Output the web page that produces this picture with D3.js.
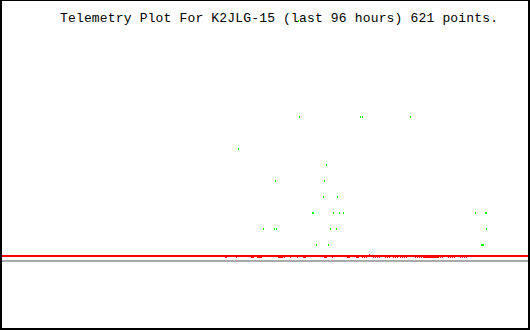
<!DOCTYPE html>
<html>
<head>
<meta charset="utf-8">
<script src="https://cdn.jsdelivr.net/npm/d3@7"></script>
<style>
    body { margin: 0; background: #fff; }
    svg { display: block; }
</style>
</head>
<body>
<script>
// time axis is hours before now, last 96 hours
var hourRange = [-96, 0];
var levelRange = [0, 16];

var titleText = 'Telemetry Plot For K2JLG-15 (last 96 hours) 621 points.';

// green channel, hours ago and level
var greenHours = [-41.82, -41.64, -30.55, -30.18, -21.45, -52.73, -36.73, -46.00, -37.09,
    -37.27, -34.73, -39.27, -39.09, -35.45, -34.36, -33.64, -9.64, -7.82, -7.64,
    -48.18, -46.18, -45.82, -36.00, -34.91, -7.64, -38.55, -36.36, -8.55, -8.36, -8.18];
var greenLevels = [15, 9, 9, 9, 9, 7, 6, 5, 5,
    4, 4, 3, 3, 3, 3, 3, 3, 3, 3,
    2, 2, 2, 2, 2, 2, 1, 1, 1, 1, 1];

// red channel, only the samples that leave the red line are visible
var redHours = [-55.09, -54.91, -53.09, -50.36, -50.18, -50.00, -49.27, -49.09, -48.91, -48.73,
    -48.55, -45.45, -45.27, -45.09, -44.91, -44.73, -44.36, -43.27, -42.00, -40.91,
    -40.73, -40.55, -37.09, -36.91, -36.73, -35.64, -32.91, -32.73, -32.55, -31.27,
    -31.09, -30.91, -30.18, -29.82, -29.45, -28.91, -28.18, -27.82, -27.45, -27.09,
    -26.00, -25.64, -25.27, -24.55, -24.18, -23.82, -23.27, -22.91, -22.55, -22.18,
    -20.55, -20.18, -19.82, -19.45, -19.09, -18.91, -18.73, -18.55, -18.36, -18.18,
    -18.00, -17.82, -17.64, -17.45, -17.27, -17.09, -16.91, -16.73, -16.55, -16.36,
    -16.00, -15.64, -14.55, -14.18, -13.82, -13.45, -12.36, -12.00, -11.64, -11.27];
var redValues = [0.25, 0.25, 0.25, 0.25, 0.25, 0.25, 0.25, 0.25, 0.25, 0.25,
    0.25, 0.25, 0.25, 0.25, 0.25, 0.25, 0.25, 0.25, 0.25, 0.25,
    0.25, 0.25, 0.25, 0.25, 0.25, 0.25, 0.25, 0.25, 0.25, 0.25,
    0.25, 0.25, 0.25, 0.25, 0.25, 0.375, 0.25, 0.25, 0.25, 0.25,
    0.25, 0.25, 0.25, 0.25, 0.25, 0.25, 0.25, 0.25, 0.25, 0.25,
    0.25, 0.25, 0.25, 0.25, 0.25, 0.25, 0.25, 0.25, 0.25, 0.25,
    0.25, 0.25, 0.25, 0.25, 0.25, 0.25, 0.25, 0.25, 0.25, 0.25,
    0.25, 0.25, 0.25, 0.25, 0.25, 0.25, 0.25, 0.25, 0.25, 0.25];

// reference lines
var redLineLevel = 0.3125;
var baseLevel = 0;

window.onload = function(){
    var width = 530,
        height = 330,
        svg, x, y;

    svg = d3.select('body')
        .append('svg')
        .attr('width', width)
        .attr('height', height)
        .attr('shape-rendering', 'crispEdges');

    x = d3.scaleLinear().domain(hourRange).range([0, 528]);
    y = d3.scaleLinear().domain(levelRange).range([260, 4]);

    svg.append('rect')
        .attr('width', width)
        .attr('height', height)
        .attr('fill', '#fff');

    // gray base line and red line across the whole plot
    svg.append('rect')
        .attr('x', 1).attr('y', Math.round(y(baseLevel)))
        .attr('width', 527).attr('height', 2)
        .attr('fill', '#aaaaaa');

    svg.append('rect')
        .attr('x', 1).attr('y', Math.round(y(redLineLevel)))
        .attr('width', 527).attr('height', 2)
        .attr('fill', '#ff0000');

    svg.selectAll('rect.red')
        .data(redHours)
        .enter()
        .append('rect')
        .attr('class', 'red')
        .attr('x', function(d){ return Math.round(x(d)); })
        .attr('y', function(d, i){ return Math.round(y(redValues[i])); })
        .attr('width', 1)
        .attr('height', 2)
        .attr('fill', '#ff0000');

    svg.append('text')
        .attr('x', 60)
        .attr('y', 22)
        .attr('font-family', 'Liberation Mono, monospace')
        .attr('font-size', 13)
        .attr('textLength', 438)
        .attr('lengthAdjust', 'spacing')
        .attr('fill', '#000')
        .text(titleText);

    // green drawn after the title, one sample sits on it
    svg.selectAll('rect.green')
        .data(greenHours)
        .enter()
        .append('rect')
        .attr('class', 'green')
        .attr('x', function(d){ return Math.round(x(d)); })
        .attr('y', function(d, i){ return Math.round(y(greenLevels[i])); })
        .attr('width', 1)
        .attr('height', 2)
        .attr('fill', '#00ff00');

    // border
    svg.append('rect').attr('x', 0).attr('y', 0).attr('width', width).attr('height', 1).attr('fill', '#000');
    svg.append('rect').attr('x', 0).attr('y', 0).attr('width', 2).attr('height', height).attr('fill', '#000');
    svg.append('rect').attr('x', 528).attr('y', 0).attr('width', 2).attr('height', height).attr('fill', '#000');
    svg.append('rect').attr('x', 0).attr('y', 328).attr('width', width).attr('height', 2).attr('fill', '#000');
};
</script>
</body>
</html>
